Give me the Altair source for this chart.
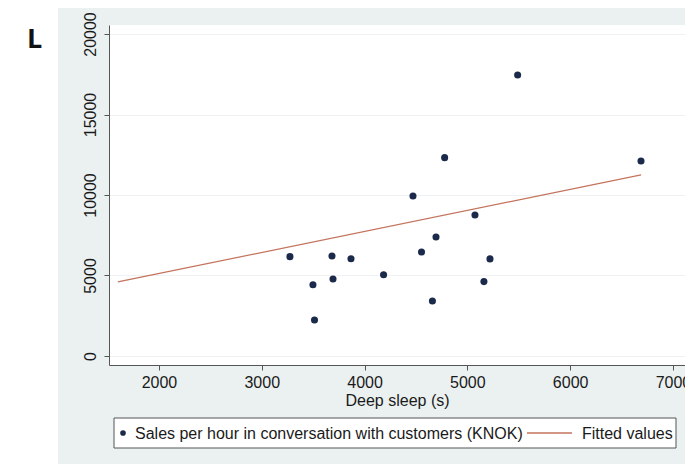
import altair as alt
import pandas as pd

# Deep sleep (seconds) and sales per hour for each observation
deep_sleep = [5489, 4779, 6689, 4471, 5074, 4695, 4554, 5220, 3274,
              3683, 3868, 3693, 4185, 3498, 5161, 4660, 3513]
sales = [17450, 12320, 12110, 9940, 8760, 7390, 6460, 6030, 6170,
         6210, 6040, 4780, 5050, 4430, 4620, 3420, 2240]

# Linear fit, end points
fit_x = [1600, 6690]
fit_y = [4600, 11250]

x_ticks = [2000, 3000, 4000, 5000, 6000, 7000]
y_ticks = [0, 5000, 10000, 15000, 20000]
series_names = ["Sales per hour in conversation with customers (KNOK)", "Fitted values"]
x_title = "Deep sleep (s)"
panel_letter = "L"

FONT = "Liberation Sans"
NAVY = "#1b2a4a"
FIT = "#c4735d"
GRAPH_BG = "#ebf1f1"
INK = "#1a1a1a"
AXIS = "#555555"

W, H = 576, 340
PAD = {"left": 109, "top": 25, "right": 0, "bottom": 99}

pts = pd.DataFrame({"deep": deep_sleep, "sales": sales})
fit = pd.DataFrame({"deep": fit_x, "sales": fit_y})
one = pd.DataFrame({"k": [0]})

xs = alt.Scale(domain=[1514, 7117], nice=False, zero=False)
ys = alt.Scale(domain=[-560, 20560], nice=False, zero=False)

x_axis = alt.Axis(values=x_ticks, format="d", title=x_title, grid=False,
                  tickSize=5, labelPadding=4, titlePadding=2,
                  labelFlush=False, labelOverlap=False)
y_axis = alt.Axis(values=y_ticks, format="d", title=None, grid=True,
                  gridColor="#eef2f2", tickSize=5, labelAngle=270,
                  labelAlign="center", labelBaseline="alphabetic",
                  labelPadding=9, labelFlush=False, labelOverlap=False)

# white margin outside the graph region
strip_left = alt.Chart(one).mark_rect(color="white").encode(
    x=alt.value(-109), x2=alt.value(-51), y=alt.value(-25), y2=alt.value(439))
strip_top = alt.Chart(one).mark_rect(color="white").encode(
    x=alt.value(-109), x2=alt.value(W), y=alt.value(-25), y2=alt.value(-17))

points = alt.Chart(pts).mark_circle(size=50, color=NAVY, opacity=1).encode(
    x=alt.X("deep:Q", scale=xs, axis=x_axis),
    y=alt.Y("sales:Q", scale=ys, axis=y_axis),
)

fit_line = alt.Chart(fit).mark_line(color=FIT, strokeWidth=1.3).encode(
    x=alt.X("deep:Q", scale=xs),
    y=alt.Y("sales:Q", scale=ys),
)

# legend below the axis
leg_box = alt.Chart(one).mark_rect(fill="white", stroke=AXIS, strokeWidth=1).encode(
    x=alt.value(5), x2=alt.value(567), y=alt.value(393), y2=alt.value(423))
leg_dot = alt.Chart(one).mark_circle(size=32, color=NAVY, opacity=1).encode(
    x=alt.value(14), y=alt.value(408))
leg_txt1 = alt.Chart(pd.DataFrame({"label": [series_names[0]]})).mark_text(
    align="left", baseline="middle", font=FONT, fontSize=16, color=INK).encode(
    x=alt.value(26), y=alt.value(409), text="label:N")
leg_line = alt.Chart(one).mark_rule(color=FIT, strokeWidth=1.3).encode(
    x=alt.value(418), x2=alt.value(463), y=alt.value(408))
leg_txt2 = alt.Chart(pd.DataFrame({"label": [series_names[1]]})).mark_text(
    align="left", baseline="middle", font=FONT, fontSize=16, color=INK).encode(
    x=alt.value(473), y=alt.value(409), text="label:N")

letter = alt.Chart(pd.DataFrame({"label": [panel_letter]})).mark_text(
    align="left", baseline="alphabetic", font="Open Sans", fontSize=27,
    fontWeight="bold", color="#111111").encode(
    x=alt.value(-82), y=alt.value(23), text="label:N")

chart = alt.layer(
    strip_left, strip_top, fit_line, points,
    leg_box, leg_dot, leg_txt1, leg_line, leg_txt2, letter,
).properties(
    width=W, height=H, padding=PAD,
    autosize=alt.AutoSizeParams(type="none"),
    background=GRAPH_BG,
).configure_view(
    fill="white", stroke=None
).configure_axis(
    labelFont=FONT, labelFontSize=16, labelColor=INK,
    titleFont=FONT, titleFontSize=16, titleFontWeight="normal", titleColor=INK,
    domainColor=AXIS, tickColor=AXIS, domainWidth=1, tickWidth=1,
)

chart.save("out.html", embed_options={"renderer": "svg", "actions": False})
